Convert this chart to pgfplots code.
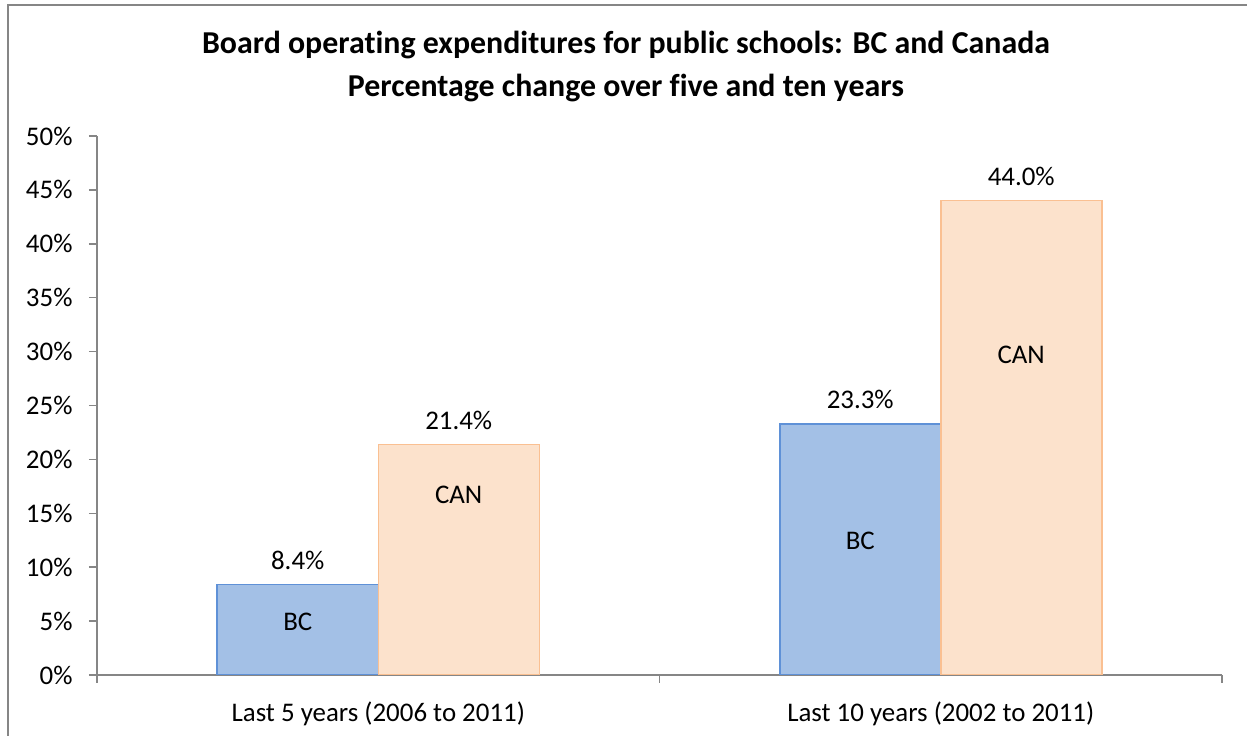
\documentclass[border=0pt]{standalone}
\usepackage{pgfplots}
\pgfplotsset{compat=1.18}
\usepackage{fontspec}
\setmainfont{Carlito}[Ligatures=NoCommon]

\definecolor{bcfill}{RGB}{163,192,230}
\definecolor{bcdraw}{RGB}{95,145,215}
\definecolor{canfill}{RGB}{252,226,204}
\definecolor{candraw}{RGB}{250,192,146}
\definecolor{axgray}{RGB}{134,134,134}

\begin{document}
\begin{tikzpicture}[x=1bp,y=1bp]
% picture is 1247 x 736, plot area corner at (0,0)
\useasboundingbox (-97,-61) rectangle (1150,675);
\draw[axgray, line width=2bp] (-89,-70) -- (-89,670) -- (1160,670);

\begin{axis}[
    at={(0,0)}, anchor=south west,
    scale only axis,
    width=1125bp, height=539bp,
    ybar=0pt,
    bar width=161bp,
    xmin=-0.5, xmax=1.5,
    ymin=0, ymax=50,
    axis x line*=bottom,
    axis y line*=left,
    axis line style={axgray, line width=1.5bp},
    tick style={axgray, line width=1.5bp},
    tick align=outside,
    major tick length=8bp,
    ytick={0,5,...,50},
    yticklabel={\pgfmathprintnumber{\tick}\%},
    /pgf/number format/assume math mode=true,
    yticklabel style={xshift=-13bp},
    xtick={-0.5,0.5,1.5},
    xticklabels={},
    extra x ticks={0,1},
    extra x tick labels={Last 5 years (2006 to 2011),Last 10 years (2002 to 2011)},
    extra x tick style={major tick length=0pt, xticklabel style={yshift=-23bp}},
    ticklabel style={font=\fontsize{27}{32}\selectfont},
    nodes near coords={\pgfmathprintnumber[fixed,fixed zerofill,precision=1]{\pgfplotspointmeta}\%},
    every node near coord/.append style={font=\fontsize{27}{32}\selectfont, black, yshift=11bp},
]
\addplot[fill=bcfill, draw=bcdraw, line width=1.5bp] coordinates {(0,8.4) (1,23.3)};
\addplot[fill=canfill, draw=candraw, line width=1.5bp] coordinates {(0,21.4) (1,44.0)};

\node[font=\fontsize{27}{32}\selectfont] at (axis cs:-0.143,4.9) {BC};
\node[font=\fontsize{27}{32}\selectfont] at (axis cs:0.143,16.7) {CAN};
\node[font=\fontsize{27}{32}\selectfont] at (axis cs:0.857,12.4) {BC};
\node[font=\fontsize{27}{32}\selectfont] at (axis cs:1.143,29.7) {CAN};
\end{axis}

\node[font=\bfseries\fontsize{32}{43}\selectfont, align=center] at (529,608.5)
  {Board operating expenditures for public schools: BC and Canada\\Percentage change over five and ten years};
\end{tikzpicture}
\end{document}
